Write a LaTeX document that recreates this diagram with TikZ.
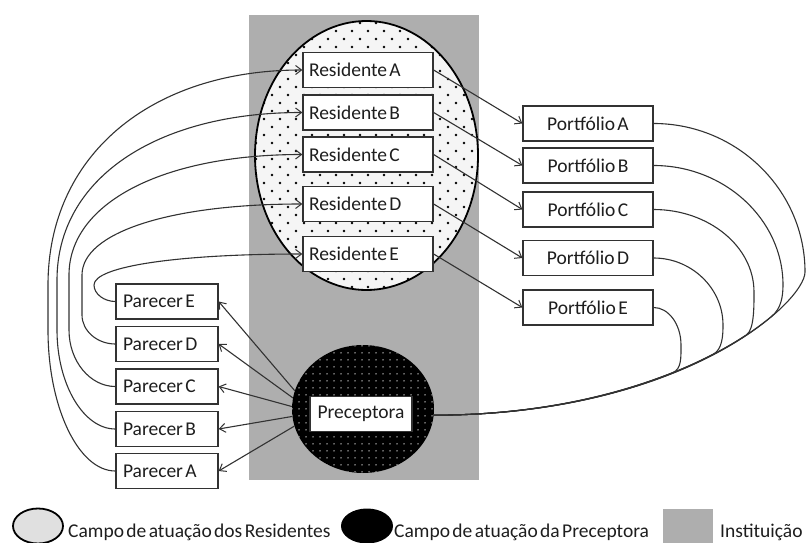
\documentclass[tikz,border=0pt]{standalone}
\usepackage{fontspec}
\setmainfont{Carlito}[WordSpace=0.55]
\usetikzlibrary{shapes.geometric,arrows.meta,patterns.meta}
\definecolor{inst}{RGB}{174,174,174}
\definecolor{ln}{RGB}{50,50,50}
\definecolor{resfill}{RGB}{245,245,245}
\definecolor{legfill}{RGB}{224,224,224}
\definecolor{txt}{RGB}{30,30,30}
\newcommand{\lft}[2]{\makebox[#1][l]{#2}}
\begin{document}
\begin{tikzpicture}[x=1pt,y=-1pt,
  lab/.style={font=\fontsize{19.5}{23}\selectfont, text=txt},
  box/.style={lab, draw=ln, line width=1.3pt, fill=white, minimum height=35pt, inner sep=0pt},
  resbox/.style={box, inner xsep=6pt},
  parbox/.style={box, inner xsep=7pt},
  portbox/.style={box, minimum width=130pt},
  precbox/.style={box, minimum width=102pt},
  conn/.style={draw=ln, line width=1.1pt},
  arr/.style={conn, -{Straight Barb[length=6pt,width=9pt,line width=1pt]}},
  legtext/.style={lab, anchor=base west, inner sep=0pt}
]
\useasboundingbox (0,0) rectangle (806,543);

% institution
\node[fill=inst, minimum width=230pt, minimum height=465pt, inner sep=0pt] (inst) at (364,247.5) {};

% field of residents
\node[ellipse, draw=black, line width=1.8pt, minimum width=223pt, minimum height=269pt, inner sep=0pt,
  preaction={fill=resfill},
  pattern={Dots[distance=16pt,radius=1.3pt]}, pattern color=black,
  postaction={pattern={Dots[distance=16pt,radius=1.3pt,xshift=8pt,yshift=8pt]}, pattern color=black}]
  (resfield) at (366.5,155.5) {};

% field of preceptor
\node[ellipse, minimum width=142pt, minimum height=128pt, inner sep=0pt,
  preaction={fill=black},
  pattern={Dots[distance=6.5pt,radius=0.8pt]}, pattern color=white!80!black]
  (prec) at (363,409) {};

% residents
\node[resbox] (rA) at (368,70) {\lft{118pt}{Residente A}};
\node[resbox] (rB) at (368,112.5) {\lft{118pt}{Residente B}};
\node[resbox] (rC) at (368,154.5) {\lft{118pt}{Residente C}};
\node[resbox] (rD) at (368,204) {\lft{118pt}{Residente D}};
\node[resbox] (rE) at (368,254) {\lft{118pt}{Residente E}};

% portfolios
\node[portbox] (poA) at (588,123.5) {Portfólio A};
\node[portbox] (poB) at (588,165.5) {Portfólio B};
\node[portbox] (poC) at (588,209.5) {Portfólio C};
\node[portbox] (poD) at (588,258) {Portfólio D};
\node[portbox] (poE) at (588,307.5) {Portfólio E};

% pareceres
\node[parbox] (paE) at (167,301.5) {\lft{88pt}{Parecer E}};
\node[parbox] (paD) at (167,344) {\lft{88pt}{Parecer D}};
\node[parbox] (paC) at (167,386.5) {\lft{88pt}{Parecer C}};
\node[parbox] (paB) at (167,429) {\lft{88pt}{Parecer B}};
\node[parbox] (paA) at (167,471) {\lft{88pt}{Parecer A}};

\node[precbox] (pbox) at (361,414) {Preceptora};

% residents -> portfolios
\draw[arr] (rA.east) -- (poA.west);
\draw[arr] (rB.east) -- (poB.west);
\draw[arr] (rC.east) -- (poC.west);
\draw[arr] (rD.east) -- (poD.west);
\draw[arr] (rE.east) -- (poE.west);

% preceptor -> pareceres
\draw[arr] (prec.165) -- (paE.east);
\draw[arr] (prec.171) -- (paD.east);
\draw[arr] (prec.178) -- (paC.east);
\draw[arr] (prec.186) -- (paB.east);
\draw[arr] (prec.194) -- (paA.east);

% pareceres -> residents
\draw[arr] (paA.west) .. controls (78.6,471) and (48,407.6) .. (48,330) -- (48,285)
  .. controls (48,156) and (150,70) .. (rA.west);
\draw[arr] (paB.west) .. controls (83.5,429) and (57,384.5) .. (57,330) -- (57,280)
  .. controls (57,179.2) and (155.4,112.5) .. (rB.west);
\draw[arr] (paC.west) .. controls (90.2,386.5) and (69,361.4) .. (69,330) -- (69,275)
  .. controls (69,203) and (162.6,154.5) .. (rC.west);
\draw[arr] (paD.west) .. controls (97.3,344) and (82,331) .. (82,315) -- (82,275)
  .. controls (82,232.4) and (170.4,204) .. (rD.west);
\draw[arr] (paE.west) .. controls (103.9,301.5) and (94,293.8) .. (94,285)
  .. controls (94,266.4) and (177.6,254) .. (rE.west);

% portfolios -> preceptor
\draw[conn] (poA.east) .. controls (736.6,123.5) and (805,190) .. (805,272)
  .. controls (805,302) and (684,415) .. (prec.-5);
\draw[conn] (poB.east) .. controls (724.5,165.5) and (783,219.5) .. (783,285)
  .. controls (783,297) and (780.9,308.5) .. (772.1,315.9)
  .. controls (720.8,359.1) and (609,415) .. (prec.-5);
\draw[conn] (poC.east) .. controls (708.6,209.5) and (754,246.4) .. (754,292)
  .. controls (754,307) and (754.2,329.7) .. (746.4,334.9)
  .. controls (687.6,373.7) and (584,415) .. (prec.-5);
\draw[conn] (poD.east) .. controls (691.5,258) and (723,288.2) .. (723,325)
  .. controls (723,335) and (722.5,349.5) .. (713.2,354.2)
  .. controls (651.7,386) and (559,415) .. (prec.-5);
\draw[conn] (poE.east) .. controls (668.4,307.5) and (681,324.1) .. (681,345)
  .. controls (681,358) and (681.5,369.2) .. (672.6,372.7)
  .. controls (613.4,396.1) and (534,415) .. (prec.-5);

% legend
\node[ellipse, draw=black, line width=1.8pt, fill=legfill, minimum width=50pt, minimum height=35pt, inner sep=0pt] (lgres) at (38,526) {};
\node[legtext] (lgrest) at (68,537) {Campo de atuação dos Residentes};
\node[ellipse, fill=black, minimum width=52pt, minimum height=35pt, inner sep=0pt] (lgprec) at (367,526) {};
\node[legtext] (lgprect) at (394,537) {Campo de atuação da Preceptora};
\node[fill=inst, minimum width=50pt, minimum height=35pt, inner sep=0pt] (lginst) at (688,526) {};
\node[legtext] (lginstt) at (720,537) {Instituição};
\end{tikzpicture}
\end{document}
